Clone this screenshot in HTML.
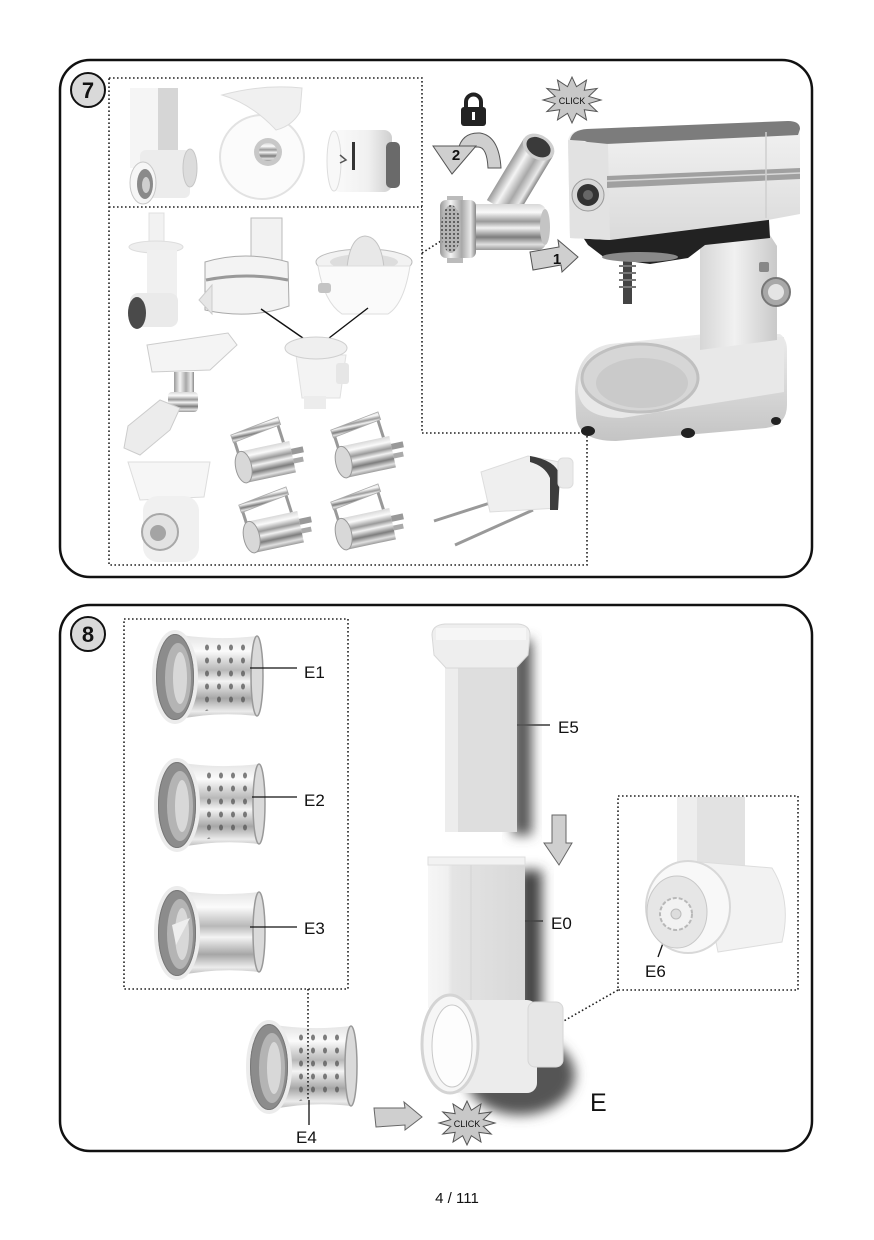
<!DOCTYPE html>
<html><head><meta charset="utf-8"><style>
html,body{margin:0;padding:0;background:#fff;}
svg{display:block;}
text{font-family:"Liberation Sans",Arial,sans-serif;fill:#111;}
</style></head><body>
<svg width="874" height="1240" viewBox="0 0 874 1240" xmlns="http://www.w3.org/2000/svg">
<defs>
<linearGradient id="chromeV" x1="0" y1="0" x2="0" y2="1">
<stop offset="0" stop-color="#d8d8d8"/><stop offset=".18" stop-color="#fafafa"/><stop offset=".38" stop-color="#9a9a9a"/><stop offset=".52" stop-color="#f2f2f2"/><stop offset=".72" stop-color="#7e7e7e"/><stop offset=".88" stop-color="#e0e0e0"/><stop offset="1" stop-color="#999"/></linearGradient>
<linearGradient id="drumG" x1="0" y1="0" x2="0" y2="1">
<stop offset="0" stop-color="#e2e2e2"/><stop offset=".2" stop-color="#fbfbfb"/><stop offset=".42" stop-color="#b8b8b8"/><stop offset=".55" stop-color="#f4f4f4"/><stop offset=".75" stop-color="#a6a6a6"/><stop offset=".9" stop-color="#ececec"/><stop offset="1" stop-color="#b0b0b0"/></linearGradient>
<linearGradient id="chromeH" x1="0" y1="0" x2="1" y2="0">
<stop offset="0" stop-color="#9a9a9a"/><stop offset=".3" stop-color="#f4f4f4"/><stop offset=".6" stop-color="#a8a8a8"/><stop offset=".85" stop-color="#e8e8e8"/><stop offset="1" stop-color="#888"/></linearGradient>
<linearGradient id="whiteH" x1="0" y1="0" x2="1" y2="0">
<stop offset="0" stop-color="#fbfbfb"/><stop offset=".6" stop-color="#f0f0f0"/><stop offset="1" stop-color="#cfcfcf"/></linearGradient>
<linearGradient id="headG" x1="0" y1="0" x2="0" y2="1">
<stop offset="0" stop-color="#f2f2f2"/><stop offset="1" stop-color="#dadada"/></linearGradient>
<linearGradient id="colG" x1="0" y1="0" x2="1" y2="0">
<stop offset="0" stop-color="#d6d6d6"/><stop offset=".45" stop-color="#f1f1f1"/><stop offset="1" stop-color="#c9c9c9"/></linearGradient>
<linearGradient id="baseG" x1="0" y1="0" x2="0" y2="1">
<stop offset="0" stop-color="#ececec"/><stop offset="1" stop-color="#c4c4c4"/></linearGradient>
<linearGradient id="tubeG" x1="0" y1="0" x2="1" y2="0">
<stop offset="0" stop-color="#f6f6f6"/><stop offset=".2" stop-color="#f0f0f0"/><stop offset=".25" stop-color="#e4e4e4"/><stop offset="1" stop-color="#d8d8d8"/></linearGradient>
<pattern id="holes" width="12" height="13" patternUnits="userSpaceOnUse"><ellipse cx="6" cy="6.5" rx="2" ry="3" fill="#555"/></pattern>
<pattern id="mesh" width="4" height="4" patternUnits="userSpaceOnUse"><circle cx="2" cy="2" r="1" fill="#444"/></pattern>
<filter id="blur6" x="-50%" y="-50%" width="200%" height="200%"><feGaussianBlur stdDeviation="6"/></filter>
<marker id="ah" markerWidth="9" markerHeight="9" refX="8" refY="4.5" orient="auto" markerUnits="userSpaceOnUse"><path d="M0 0L8 4.5L0 9" fill="none" stroke="#111" stroke-width="1.3"/></marker>
<polygon id="star" points="1,0 .58,.155 .866,.5 .424,.424 .5,.866 .155,.58 0,1 -.155,.58 -.5,.866 -.424,.424 -.866,.5 -.58,.155 -1,0 -.58,-.155 -.866,-.5 -.424,-.424 -.5,-.866 -.155,-.58 0,-1 .155,-.58 .5,-.866 .424,-.424 .866,-.5 .58,-.155" fill="#c8c8c8" stroke="#555" stroke-width="1" vector-effect="non-scaling-stroke"/>
<g id="drum">
<path d="M22 6 Q62 13 104 8 L104 88 Q62 83 22 92 Z" fill="url(#drumG)"/>
<ellipse cx="104" cy="48" rx="6" ry="40" fill="#dadada" stroke="#999" stroke-width="1.5"/>
<ellipse cx="22" cy="49" rx="21" ry="45" fill="#8c8c8c" stroke="#ececec" stroke-width="4"/>
<ellipse cx="22" cy="49" rx="18.5" ry="42.5" fill="none" stroke="#777" stroke-width="1"/>
<ellipse cx="25" cy="50" rx="13" ry="35" fill="#b4b4b4"/>
<ellipse cx="27" cy="50" rx="7" ry="26" fill="#d8d8d8"/>
</g>
<g id="roller">
<path d="M8 26 L6 6 M54 22 L52 2" fill="none" stroke="#999" stroke-width="3"/>
<path d="M4 4 L54 -4 L55 4 L5 12Z" fill="url(#chromeV)" stroke="#aaa" stroke-width=".8"/>
<rect x="10" y="22" width="50" height="32" fill="url(#chromeV)"/>
<ellipse cx="10" cy="38" rx="8" ry="16" fill="#d8d8d8" stroke="#999"/>
<rect x="60" y="30" width="12" height="6" fill="#999"/>
<rect x="60" y="40" width="10" height="5" fill="#aaa"/>
</g>
</defs>

<!-- ================= PANEL 7 ================= -->
<rect x="60" y="60" width="752" height="517" rx="30" fill="none" stroke="#111" stroke-width="2.5"/>
<circle cx="88" cy="90" r="17" fill="#d9d9d9" stroke="#111" stroke-width="2"/>
<text x="88" y="98" font-size="22" font-weight="bold" text-anchor="middle">7</text>

<path d="M109 78H422V433H587V565H109Z M109 207H422" fill="none" stroke="#222" stroke-width="1.6" stroke-dasharray="1.6 2.4"/>
<path d="M422 253L452 234" fill="none" stroke="#222" stroke-width="1.6" stroke-dasharray="1.6 2.4"/>

<!-- shredder -->
<rect x="130" y="88" width="30" height="80" fill="#f5f5f5"/>
<rect x="158" y="88" width="20" height="78" fill="#d6d6d6"/>
<rect x="140" y="150" width="50" height="48" rx="6" fill="#ececec"/>
<ellipse cx="190" cy="168" rx="7" ry="19" fill="#dcdcdc" stroke="#c6c6c6"/>
<ellipse cx="143" cy="183" rx="13" ry="21" fill="#f6f6f6" stroke="#c8c8c8"/>
<ellipse cx="145" cy="184" rx="8" ry="15" fill="#8a8a8a"/>
<ellipse cx="146" cy="185" rx="4" ry="8" fill="#cfcfcf"/>
<!-- disc -->
<circle cx="262" cy="157" r="42" fill="#fbfbfb" stroke="#e2e2e2" stroke-width="2"/>
<path d="M222 95 Q262 84 302 88 L300 112 Q292 126 276 130 Q252 104 222 95Z" fill="#f0f0f0" stroke="#dcdcdc"/>
<circle cx="268" cy="152" r="14" fill="#c8c8c8"/>
<circle cx="268" cy="152" r="9" fill="url(#chromeV)"/>
<!-- cylinder -->
<rect x="332" y="130" width="60" height="62" rx="8" fill="url(#whiteH)"/>
<ellipse cx="334" cy="161" rx="7" ry="30" fill="#f8f8f8" stroke="#ddd"/>
<rect x="386" y="142" width="14" height="46" rx="5" fill="#6a6a6a"/>
<rect x="352" y="142" width="3" height="28" fill="#333"/>
<path d="M340 155l6 5-6 3" fill="none" stroke="#555" stroke-width="1.5"/>

<!-- stuffer -->
<rect x="149" y="213" width="15" height="40" fill="#f2f2f2" stroke="#e0e0e0"/>
<ellipse cx="156" cy="247" rx="27" ry="6" fill="#eee" stroke="#ddd"/>
<rect x="147" y="250" width="30" height="50" fill="#f0f0f0"/>
<rect x="130" y="293" width="48" height="34" rx="8" fill="#eaeaea"/>
<ellipse cx="137" cy="313" rx="9" ry="16" fill="#4a4a4a"/>
<!-- food processor -->
<rect x="251" y="218" width="31" height="50" fill="#f2f2f2" stroke="#bbb"/>
<path d="M205 262 Q245 250 288 262 L289 306 Q250 320 205 310 Z" fill="#f3f3f3" stroke="#aaa"/>
<path d="M206 280 Q246 272 288 280" fill="none" stroke="#999" stroke-width="3"/>
<path d="M199 300 L212 285 L212 314 Z" fill="#e6e6e6" stroke="#ccc"/>
<!-- citrus -->
<ellipse cx="364" cy="262" rx="48" ry="13" fill="#f2f2f2" stroke="#bbb"/>
<ellipse cx="364" cy="262" rx="34" ry="8" fill="#ddd"/>
<path d="M347 268 Q350 237 365 236 Q381 237 384 268Z" fill="#e8e8e8" stroke="#c4c4c4"/>
<path d="M318 266 L410 266 Q404 304 388 314 L342 314 Q324 302 318 266Z" fill="#fafafa" stroke="#ddd"/>
<rect x="318" y="283" width="13" height="10" rx="3" fill="#c4c4c4"/>
<!-- arrows -->
<line x1="261" y1="309" x2="313" y2="345" stroke="#111" stroke-width="1.4" marker-end="url(#ah)"/>
<line x1="368" y1="308" x2="320" y2="345" stroke="#111" stroke-width="1.4" marker-end="url(#ah)"/>
<!-- adapter -->
<path d="M296 355 L346 355 L340 398 L302 398Z" fill="#f3f3f3" stroke="#e0e0e0"/>
<ellipse cx="316" cy="348" rx="31" ry="11" fill="#efefef" stroke="#cfcfcf"/>
<rect x="336" y="363" width="13" height="21" rx="3" fill="#e6e6e6"/>
<rect x="304" y="396" width="22" height="13" fill="#ececec"/>
<!-- grinder with tray -->
<path d="M147 345 L228 333 L237 345 L210 370 L152 372Z" fill="#f4f4f4" stroke="#ccc"/>
<rect x="174" y="372" width="20" height="36" fill="url(#chromeH)"/>
<rect x="168" y="392" width="30" height="20" rx="4" fill="url(#chromeV)"/>
<path d="M128 426 L160 400 L180 408 L170 430 L140 455 L124 448Z" fill="#ececec" stroke="#ccc"/>
<!-- grain mill -->
<path d="M128 462 L210 462 L204 497 L140 500Z" fill="#f6f6f6" stroke="#ddd"/>
<rect x="143" y="496" width="56" height="66" rx="15" fill="#f0f0f0"/>
<circle cx="160" cy="532" r="18" fill="#e2e2e2" stroke="#a8a8a8" stroke-width="2"/>
<circle cx="158" cy="533" r="8" fill="#a4a4a4"/>
<!-- pasta rollers -->
<use href="#roller" transform="translate(226,432) rotate(-12)"/>
<use href="#roller" transform="translate(326,427) rotate(-12)"/>
<use href="#roller" transform="translate(234,502) rotate(-12)"/>
<use href="#roller" transform="translate(326,499) rotate(-12)"/>
<!-- spiralizer -->
<line x1="434" y1="521" x2="490" y2="503" stroke="#999" stroke-width="3"/>
<line x1="455" y1="545" x2="533" y2="510" stroke="#999" stroke-width="3"/>
<path d="M481 472 L528 456 L560 462 L558 508 L490 512Z" fill="#efefef" stroke="#ddd"/>
<path d="M530 456 Q555 460 560 475 L558 510 L550 510 L550 478 Q545 466 530 462Z" fill="#3c3c3c"/>
<rect x="558" y="458" width="15" height="30" rx="5" fill="#eaeaea" stroke="#ddd"/>

<!-- CLICK 1 -->
<use href="#star" transform="translate(572,100) scale(29,23)"/>
<text x="572" y="104" font-size="9" text-anchor="middle">CLICK</text>
<!-- lock -->
<path d="M466 109 V102 a7.5 7.5 0 0 1 15 0 V109" fill="none" stroke="#222" stroke-width="4"/>
<rect x="461" y="107" width="25" height="19" rx="3" fill="#222"/>
<rect x="472" y="112" width="3" height="8" fill="#fff"/>
<!-- rotation arrow 2 -->
<path d="M458 150 Q462 132 480 133 Q499 136 501 168 L488 168 Q487 147 478 147 Q468 147 467 150Z" fill="#cfcfcf" stroke="#555" stroke-width="1"/>
<path d="M433 146 L476 146 L452 174Z" fill="#cfcfcf" stroke="#555" stroke-width="1"/>
<text x="456" y="160" font-size="15" font-weight="bold" text-anchor="middle">2</text>
<!-- arrow 1 -->
<path d="M530 252 L559 247 L558 240 L578 257 L562 272 L561 265 L533 270Z" fill="#cfcfcf" stroke="#555" stroke-width="1"/>
<text x="557" y="264" font-size="15" font-weight="bold" text-anchor="middle">1</text>

<!-- meat grinder -->
<g transform="translate(520,178) rotate(31)">
<rect x="-17" y="-36" width="34" height="72" fill="url(#chromeH)"/>
<ellipse cx="0" cy="-36" rx="17" ry="12" fill="#cfcfcf"/>
<ellipse cx="0" cy="-36" rx="13" ry="9" fill="#3a3a3a"/>
</g>
<rect x="468" y="204" width="78" height="46" rx="8" fill="url(#chromeV)"/>
<ellipse cx="545" cy="227" rx="5" ry="18" fill="#c4c4c4"/>
<rect x="447" y="196" width="16" height="8" fill="#bbb"/>
<rect x="447" y="253" width="16" height="10" fill="#bbb"/>
<rect x="440" y="200" width="36" height="58" rx="6" fill="url(#chromeH)"/>
<ellipse cx="451" cy="229" rx="10" ry="24" fill="#b4b4b4"/>
<ellipse cx="451" cy="229" rx="10" ry="24" fill="url(#mesh)"/>

<!-- mixer -->
<path d="M575 392 Q576 350 610 344 L705 334 L780 334 Q787 339 787 350 L787 405 Q787 425 766 428 L616 441 Q577 441 576 415Z" fill="url(#baseG)"/>
<path d="M578 388 Q580 352 612 347 L705 337 L784 337 L784 392 L622 418 Q582 418 578 392Z" fill="#e8e8e8"/>
<ellipse cx="640" cy="378" rx="58" ry="34" fill="#d6d6d6" stroke="#c0c0c0" stroke-width="3"/>
<ellipse cx="642" cy="383" rx="46" ry="25" fill="#cacaca"/>
<ellipse cx="588" cy="431" rx="7" ry="5" fill="#222"/>
<ellipse cx="688" cy="433" rx="7" ry="5" fill="#222"/>
<ellipse cx="776" cy="421" rx="5" ry="4" fill="#222"/>
<path d="M700 238 L768 232 L777 246 L777 340 L700 350Z" fill="url(#colG)"/>
<rect x="759" y="262" width="10" height="10" rx="2" fill="#888"/>
<circle cx="776" cy="292" r="14" fill="#a8a8a8" stroke="#777" stroke-width="2"/>
<circle cx="776" cy="292" r="8" fill="#e4e4e4"/>
<rect x="623" y="256" width="9" height="48" fill="#444"/>
<path d="M619 266h17M619 273h17M619 280h17M619 287h17" stroke="#777" stroke-width="2"/>
<path d="M573 222 L768 204 L770 238 L705 245 L688 258 L650 264 L605 258 L588 245Z" fill="#222"/>
<ellipse cx="640" cy="257" rx="38" ry="5" fill="#8a8a8a"/>
<path d="M568 140 Q570 130 585 129 L788 121 Q800 121 800 132 L800 214 L768 220 L610 240 L570 238Z" fill="url(#headG)"/>
<path d="M570 140 Q572 130 587 129 L788 121 Q800 121 800 129 L798 135 L606 144 Q590 144 585 141Z" fill="#7c7c7c"/>
<path d="M568 140 L608 144 L610 240 L570 238Z" fill="#e2e2e2"/>
<circle cx="588" cy="195" r="16" fill="#d8d8d8" stroke="#999"/>
<circle cx="588" cy="195" r="11" fill="#333"/>
<circle cx="588" cy="195" r="5" fill="#666"/>
<path d="M607 176 L800 168 L800 179 L607 188Z" fill="#a0a0a0"/>
<path d="M607 181 L800 173" stroke="#d8d8d8" stroke-width="1.5"/>
<line x1="766" y1="132" x2="766" y2="218" stroke="#cfcfcf" stroke-width="1.5"/>

<!-- ================= PANEL 8 ================= -->
<rect x="60" y="605" width="752" height="546" rx="30" fill="none" stroke="#111" stroke-width="2.5"/>
<circle cx="88" cy="634" r="17" fill="#d9d9d9" stroke="#111" stroke-width="2"/>
<text x="88" y="642" font-size="22" font-weight="bold" text-anchor="middle">8</text>

<path d="M124 619H348V989H124Z" fill="none" stroke="#222" stroke-width="1.6" stroke-dasharray="1.6 2.4"/>
<path d="M618 796H798V990H618Z" fill="none" stroke="#222" stroke-width="1.6" stroke-dasharray="1.6 2.4"/>
<path d="M618 990L562 1022" fill="none" stroke="#222" stroke-width="1.6" stroke-dasharray="1.6 2.4"/>

<!-- drums -->
<use href="#drum" transform="translate(153,628)"/>
<path d="M48 14 Q74 18 98 14 L98 82 Q74 78 48 84Z" fill="url(#holes)" opacity=".75" transform="translate(153,628)"/>
<use href="#drum" transform="translate(155,756)"/>
<path d="M48 14 Q74 18 98 14 L98 82 Q74 78 48 84Z" fill="url(#holes)" opacity=".75" transform="translate(155,756)"/>
<use href="#drum" transform="translate(155,884)"/>
<path d="M172 925 L190 918 L176 945Z" fill="#eee"/>
<use href="#drum" transform="translate(247,1018)"/>
<path d="M48 14 Q74 18 98 14 L98 82 Q74 78 48 84Z" fill="url(#holes)" opacity=".75" transform="translate(247,1018)"/>
<path d="M308 989V1100" fill="none" stroke="#222" stroke-width="1.6" stroke-dasharray="1.6 2.4"/>

<!-- labels -->
<g stroke="#111" stroke-width="1.3">
<line x1="250" y1="668" x2="297" y2="668"/>
<line x1="252" y1="797" x2="297" y2="797"/>
<line x1="250" y1="927" x2="297" y2="927"/>
<line x1="309" y1="1100" x2="309" y2="1125"/>
<line x1="490" y1="725" x2="550" y2="725"/>
<line x1="517" y1="921" x2="543" y2="921"/>
<line x1="658" y1="957" x2="667" y2="932"/>
</g>
<text x="304" y="678" font-size="17">E1</text>
<text x="304" y="806" font-size="17">E2</text>
<text x="304" y="934" font-size="17">E3</text>
<text x="296" y="1143" font-size="17">E4</text>
<text x="558" y="733" font-size="17">E5</text>
<text x="551" y="929" font-size="17">E0</text>
<text x="645" y="977" font-size="17">E6</text>
<text x="590" y="1111" font-size="25">E</text>

<!-- E5 pusher -->
<rect x="512" y="640" width="20" height="195" fill="#555" filter="url(#blur6)"/>
<rect x="445" y="664" width="72" height="168" fill="#dedede"/>
<rect x="445" y="664" width="13" height="168" fill="#ededed"/>
<path d="M432 635 Q432 625 445 624 L518 624 Q530 625 530 635 L528 655 L516 668 L446 668 L434 655Z" fill="#eeeeee" stroke="#d8d8d8"/>
<path d="M436 628 L526 628 L526 640 L436 640Z" fill="#f6f6f6"/>

<!-- down arrow -->
<path d="M552 815 L566 815 L566 843 L572 843 L559 865 L544 843 L552 843Z" fill="#cfcfcf" stroke="#666"/>

<!-- E0 housing -->
<rect x="518" y="870" width="24" height="150" fill="#444" filter="url(#blur6)"/>
<ellipse cx="520" cy="1075" rx="55" ry="40" fill="#555" filter="url(#blur6)"/>
<rect x="428" y="858" width="97" height="150" fill="url(#tubeG)"/>
<rect x="428" y="857" width="97" height="8" fill="#f2f2f2" stroke="#ddd"/>
<line x1="471" y1="865" x2="471" y2="1000" stroke="#d4d4d4"/>
<rect x="440" y="1000" width="97" height="93" rx="10" fill="#ececec"/>
<rect x="528" y="1002" width="35" height="65" rx="7" fill="#e6e6e6" stroke="#d6d6d6"/>
<ellipse cx="450" cy="1044" rx="28" ry="49" fill="#f6f6f6" stroke="#d4d4d4" stroke-width="3"/>
<ellipse cx="452" cy="1046" rx="20" ry="41" fill="#fdfdfd" stroke="#c8c8c8"/>

<!-- E6 detail -->
<rect x="677" y="797" width="68" height="80" fill="#e2e2e2"/>
<rect x="677" y="797" width="20" height="80" fill="#eeeeee"/>
<path d="M700 862 L772 868 Q792 900 782 942 L718 952Z" fill="#f2f2f2" stroke="#ddd"/>
<ellipse cx="688" cy="907" rx="42" ry="46" fill="#f8f8f8" stroke="#d8d8d8" stroke-width="2"/>
<ellipse cx="677" cy="912" rx="30" ry="36" fill="#e6e6e6" stroke="#c8c8c8"/>
<circle cx="676" cy="914" r="16" fill="#f2f2f2" stroke="#b8b8b8" stroke-width="2" stroke-dasharray="4 2"/>
<circle cx="676" cy="914" r="5" fill="#ddd" stroke="#bbb"/>

<!-- right arrow + click 2 -->
<path d="M374 1108 L405 1108 L404 1102 L422 1117 L405 1130 L405 1125 L376 1127Z" fill="#cfcfcf" stroke="#666"/>
<use href="#star" transform="translate(467,1123) scale(28,22)"/>
<text x="467" y="1127" font-size="9" text-anchor="middle">CLICK</text>

<!-- page number -->
<text x="457" y="1203" font-size="15" text-anchor="middle">4 / 111</text>
</svg>
</body></html>
